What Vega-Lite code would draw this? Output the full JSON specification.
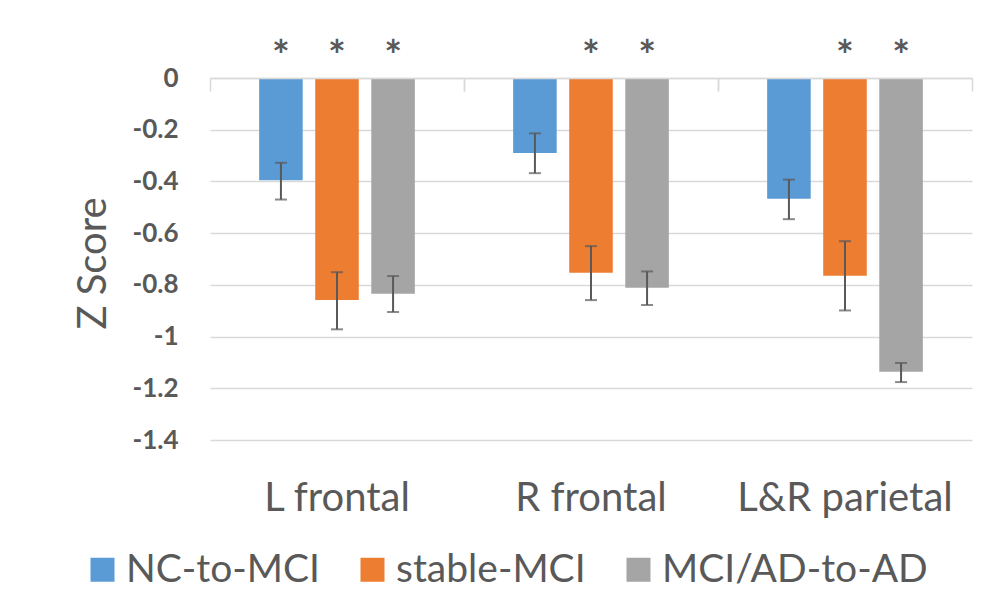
{
  "$schema": "https://vega.github.io/schema/vega-lite/v6.json",
  "autosize": {"type": "none"},
  "width": 762,
  "height": 362,
  "padding": {"left": 210, "top": 78, "right": 31, "bottom": 174},
  "background": "white",
  "config": {
    "font": "Lato",
    "view": {"stroke": null},
    "axis": {"labelColor": "#595959", "titleColor": "#595959", "gridColor": "#d9d9d9", "gridWidth": 1.5}
  },
  "data": {
    "values": [
      {"region": "L frontal", "group": "NC-to-MCI", "z": -0.395, "lo": -0.328, "hi": -0.470, "sig": "*"},
      {"region": "L frontal", "group": "stable-MCI", "z": -0.859, "lo": -0.751, "hi": -0.972, "sig": "*"},
      {"region": "L frontal", "group": "MCI/AD-to-AD", "z": -0.834, "lo": -0.766, "hi": -0.905, "sig": "*"},
      {"region": "R frontal", "group": "NC-to-MCI", "z": -0.290, "lo": -0.214, "hi": -0.368, "sig": ""},
      {"region": "R frontal", "group": "stable-MCI", "z": -0.753, "lo": -0.650, "hi": -0.859, "sig": "*"},
      {"region": "R frontal", "group": "MCI/AD-to-AD", "z": -0.811, "lo": -0.748, "hi": -0.878, "sig": "*"},
      {"region": "L&R parietal", "group": "NC-to-MCI", "z": -0.467, "lo": -0.393, "hi": -0.546, "sig": ""},
      {"region": "L&R parietal", "group": "stable-MCI", "z": -0.765, "lo": -0.631, "hi": -0.899, "sig": "*"},
      {"region": "L&R parietal", "group": "MCI/AD-to-AD", "z": -1.136, "lo": -1.102, "hi": -1.176, "sig": "*"}
    ]
  },
  "encoding": {
    "x": {
      "field": "region", "type": "nominal",
      "sort": ["L frontal", "R frontal", "L&R parietal"],
      "scale": {"paddingInner": 0.387, "paddingOuter": 0.1935},
      "axis": null
    },
    "xOffset": {
      "field": "group", "type": "nominal",
      "sort": ["NC-to-MCI", "stable-MCI", "MCI/AD-to-AD"],
      "scale": {"paddingInner": 0.223, "paddingOuter": 0}
    }
  },
  "layer": [
    {
      "mark": {"type": "bar"},
      "encoding": {
        "x": {
          "field": "region", "type": "nominal",
          "sort": ["L frontal", "R frontal", "L&R parietal"],
          "scale": {"paddingInner": 0.387, "paddingOuter": 0.1935},
          "axis": {"title": null, "orient": "bottom", "domain": false, "ticks": false, "labelAngle": 0, "labelFontSize": 40, "labelPadding": 38, "labelLimit": 0, "labelColor": "#595959"}
        },
        "y": {
          "field": "z", "type": "quantitative",
          "scale": {"domain": [-1.4, 0], "nice": false, "zero": false},
          "axis": {
            "title": "Z Score", "titleFontSize": 40, "titleFontWeight": "normal",
            "titleX": -117, "titleY": 185, "titleAngle": 270, "titleAlign": "center", "titleBaseline": "middle",
            "values": [0, -0.2, -0.4, -0.6, -0.8, -1, -1.2, -1.4],
            "labelExpr": "datum.value == 0 ? '0' : '-' + format(abs(datum.value), '.1~f')",
            "labelFontSize": 26, "labelFontWeight": "bold", "labelPadding": 32,
            "domain": false, "ticks": false, "grid": true
          }
        },
        "color": {
          "field": "group", "type": "nominal",
          "sort": ["NC-to-MCI", "stable-MCI", "MCI/AD-to-AD"],
          "scale": {"range": ["#5b9bd5", "#ed7d31", "#a5a5a5"]},
          "legend": {
            "title": null, "orient": "none", "direction": "horizontal",
            "legendX": -127, "legendY": 472, "padding": 0,
            "symbolType": "square", "symbolSize": 576, "symbolStrokeWidth": 0, "symbolOpacity": 1,
            "labelFontSize": 39, "labelColor": "#595959", "labelOffset": 4, "labelLimit": 0, "columnPadding": 33
          }
        }
      }
    },
    {
      "mark": {"type": "rule", "color": "#595959", "strokeWidth": 2},
      "encoding": {
        "x": {
          "field": "region", "type": "nominal",
          "sort": ["L frontal", "R frontal", "L&R parietal"],
          "scale": {"paddingInner": 0.387, "paddingOuter": 0.1935},
          "axis": {"title": null, "orient": "bottom", "offset": -362, "labels": false, "domain": true, "domainColor": "#d9d9d9", "domainWidth": 1.5, "ticks": true, "bandPosition": 0, "tickOffset": -49.15, "tickSize": 13, "tickColor": "#d9d9d9", "tickWidth": 1.5, "zindex": 1}
        },
        "y": {"field": "lo", "type": "quantitative"},
        "y2": {"field": "hi"}
      }
    },
    {
      "mark": {"type": "tick", "color": "#595959", "thickness": 2, "size": 12},
      "encoding": {
        "x": {
          "field": "region", "type": "nominal",
          "sort": ["L frontal", "R frontal", "L&R parietal"],
          "scale": {"paddingInner": 0.387, "paddingOuter": 0.1935},
          "axis": {"title": null, "orient": "bottom", "offset": -362, "labels": false, "domain": false, "ticks": true, "bandPosition": 1, "tickOffset": 49.15, "tickSize": 13, "tickColor": "#d9d9d9", "tickWidth": 1.5, "zindex": 1}
        },
        "y": {"field": "lo", "type": "quantitative"}
      }
    },
    {
      "mark": {"type": "tick", "color": "#595959", "thickness": 2, "size": 12},
      "encoding": {"y": {"field": "hi", "type": "quantitative"}}
    },
    {
      "transform": [{"filter": "datum.sig == '*'"}],
      "mark": {"type": "text", "fontSize": 42, "fontWeight": "bold", "color": "#595959", "baseline": "middle", "dy": -20},
      "encoding": {
        "y": {"datum": 0},
        "text": {"field": "sig"}
      }
    }
  ],
  "resolve": {"axis": {"x": "independent"}}
}
